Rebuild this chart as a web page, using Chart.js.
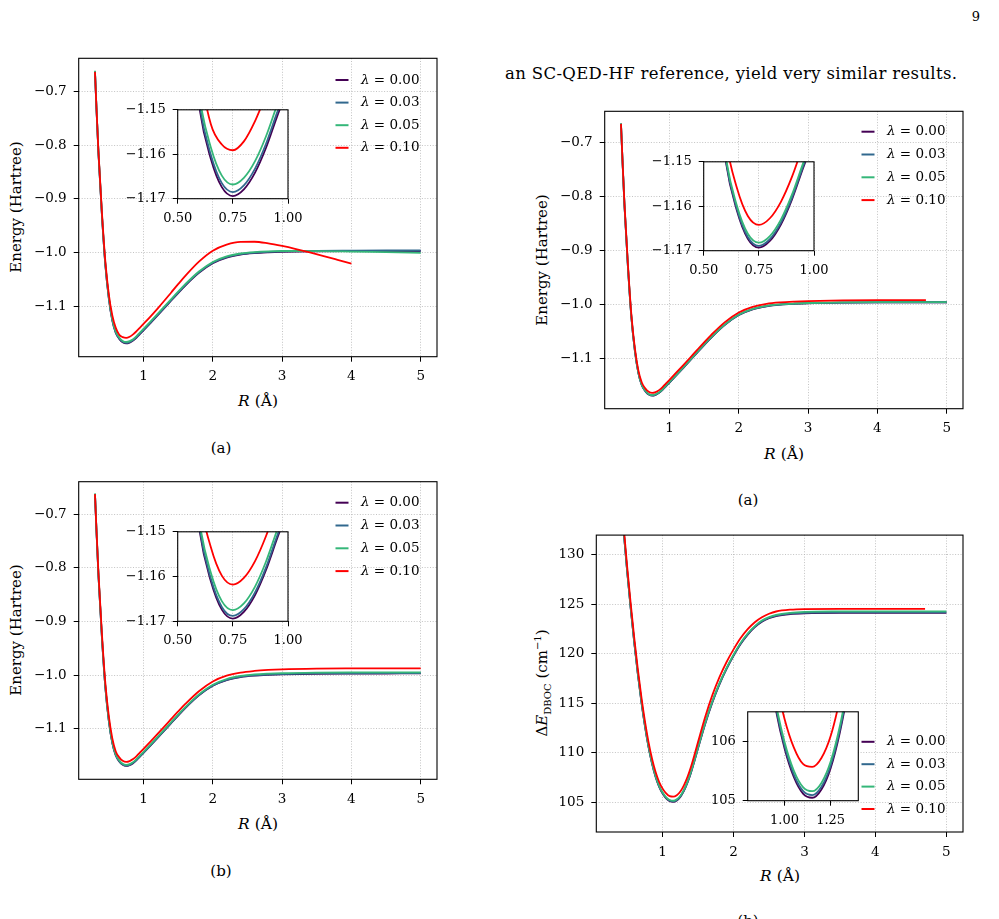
<!DOCTYPE html>
<html><head><meta charset="utf-8">
<script src="https://cdn.jsdelivr.net/npm/chart.js@4/dist/chart.umd.min.js"></script>
<style>
html,body{margin:0;padding:0;background:#fff;}
body{width:999px;height:919px;position:relative;overflow:hidden;font-family:"DejaVu Serif",serif;color:#000;}
canvas{position:absolute;}
.t{position:absolute;white-space:nowrap;line-height:1;}
.c{transform:translate(-50%,-50%);}
.v{transform:translate(-50%,-50%) rotate(-90deg);}
</style></head><body>
<div class="t" style="left:976px;top:16px;font-size:13px;transform:translate(-50%,-50%)">9</div>
<div class="t" style="left:505px;top:66px;font-size:16.5px;letter-spacing:0.35px">an SC-QED-HF reference, yield very similar results.</div>

<div class="t c" style="left:221px;top:448px;font-size:15px">(a)</div>
<div class="t c" style="left:748px;top:500px;font-size:15px">(a)</div>
<div class="t c" style="left:221px;top:871px;font-size:15px">(b)</div>
<div class="t c" style="left:748px;top:921px;font-size:15px">(b)</div>

<div class="t v" style="left:16px;top:207px;font-size:15px">Energy (Hartree)</div>
<div class="t v" style="left:542px;top:260px;font-size:15px">Energy (Hartree)</div>
<div class="t v" style="left:16px;top:630px;font-size:15px">Energy (Hartree)</div>
<div class="t v" style="left:543px;top:683px;font-size:15px">Δ<i>E</i><sub style="font-size:10px">DBOC</sub> (cm<sup style="font-size:10px">−1</sup>)</div>

<div class="t c" style="left:258px;top:402px;font-size:15.5px"><i>R</i> (Å)</div>
<div class="t c" style="left:784px;top:455px;font-size:15.5px"><i>R</i> (Å)</div>
<div class="t c" style="left:258px;top:825px;font-size:15.5px"><i>R</i> (Å)</div>
<div class="t c" style="left:780px;top:877px;font-size:15.5px"><i>R</i> (Å)</div>

<script>
// ---------------- data ----------------
const LAMBDAS = ['0.00','0.03','0.05','0.10'];

// bond length grids (Å)
const R_E   = [0.30,0.32,0.35,0.40,0.45,0.50,0.55,0.60,0.65,0.70,0.75,0.80,0.85,0.90,0.95,1.00,1.10,1.20,1.30,1.40,1.50,1.60,1.80,2.00,2.20,2.40,2.60,2.80,3.00,3.50,4.00,4.50,5.00];
const R_E47 = [0.30,0.32,0.35,0.40,0.45,0.50,0.55,0.60,0.65,0.70,0.75,0.80,0.85,0.90,0.95,1.00,1.10,1.20,1.30,1.40,1.50,1.60,1.80,2.00,2.20,2.40,2.60,2.80,3.00,3.50,4.00,4.50,4.70];
const R_TLR = [0.30,0.32,0.35,0.40,0.45,0.50,0.55,0.60,0.65,0.70,0.75,0.80,0.85,0.90,0.95,1.00,1.10,1.20,1.30,1.40,1.50,1.60,1.80,2.00,2.20,2.40,2.60,2.80,3.00,3.20,3.40,3.60,3.80,4.00];
const R_D   = [0.40,0.45,0.50,0.55,0.60,0.65,0.70,0.75,0.80,0.85,0.90,0.95,1.00,1.05,1.10,1.15,1.20,1.25,1.30,1.35,1.40,1.45,1.50,1.60,1.70,1.80,1.90,2.00,2.10,2.20,2.30,2.40,2.50,2.60,2.80,3.00,3.50,4.00,4.50,5.00];
const R_D47 = [0.40,0.45,0.50,0.55,0.60,0.65,0.70,0.75,0.80,0.85,0.90,0.95,1.00,1.05,1.10,1.15,1.20,1.25,1.30,1.35,1.40,1.45,1.50,1.60,1.70,1.80,1.90,2.00,2.10,2.20,2.30,2.40,2.50,2.60,2.80,3.00,3.50,4.00,4.50,4.70];

// top-left panel energies (Hartree)
const E_TL_000 = [-0.663,-0.728,-0.815,-0.930,-1.024,-1.086,-1.127,-1.1500,-1.1610,-1.1674,-1.1694,-1.1679,-1.1642,-1.1586,-1.1516,-1.1450,-1.1315,-1.1177,-1.1037,-1.0895,-1.0755,-1.0620,-1.0380,-1.0200,-1.0095,-1.0040,-1.0012,-0.9997,-0.9988,-0.9977,-0.9973,-0.99715,-0.9971];
const E_TL_003 = [-0.6625,-0.7275,-0.8145,-0.9295,-1.0235,-1.0853,-1.1262,-1.1491,-1.1601,-1.1665,-1.1685,-1.1670,-1.1633,-1.1577,-1.1507,-1.1441,-1.1306,-1.1168,-1.1028,-1.0886,-1.0746,-1.0611,-1.0371,-1.0191,-1.0086,-1.0031,-1.0004,-0.9989,-0.9980,-0.9968,-0.9964,-0.9962,-0.9962];
const E_TL_005 = [-0.6610,-0.7258,-0.8128,-0.9278,-1.0218,-1.0836,-1.1245,-1.1474,-1.1584,-1.1648,-1.1668,-1.1653,-1.1616,-1.1560,-1.1490,-1.1424,-1.1289,-1.1151,-1.1011,-1.0869,-1.0729,-1.0594,-1.0354,-1.0175,-1.0071,-1.0018,-0.9991,-0.9977,-0.9971,-0.9972,-0.9982,-0.9994,-1.0005];
const E_TL_010 = [-0.663,-0.7255,-0.8115,-0.9250,-1.0175,-1.0785,-1.1175,-1.1405,-1.1532,-1.1578,-1.1591,-1.1571,-1.1526,-1.1466,-1.1400,-1.1332,-1.1194,-1.1050,-1.0900,-1.0745,-1.0590,-1.0440,-1.0170,-0.9965,-0.9851,-0.9800,-0.9799,-0.9830,-0.9878,-0.9935,-0.9998,-1.0065,-1.0135,-1.0206];

// top-right panel energies (Hartree)
const E_TR_000 = [-0.665,-0.729,-0.816,-0.930,-1.024,-1.086,-1.127,-1.1499,-1.1609,-1.1673,-1.1693,-1.1678,-1.1641,-1.1585,-1.1515,-1.1449,-1.1314,-1.1176,-1.1036,-1.0894,-1.0754,-1.0619,-1.0379,-1.0198,-1.0091,-1.0034,-1.0005,-0.9990,-0.9980,-0.9968,-0.9962,-0.9960,-0.9960];
const E_TR_003 = [-0.6646,-0.7286,-0.8156,-0.9296,-1.0236,-1.0856,-1.1266,-1.1495,-1.1605,-1.1669,-1.1689,-1.1674,-1.1637,-1.1581,-1.1511,-1.1445,-1.1310,-1.1172,-1.1032,-1.0890,-1.0750,-1.0615,-1.0375,-1.0194,-1.0087,-1.0030,-1.0002,-0.9987,-0.9977,-0.9966,-0.9961,-0.9960,-0.9960];
const E_TR_005 = [-0.6640,-0.7279,-0.8149,-0.9289,-1.0229,-1.0849,-1.1259,-1.1488,-1.1598,-1.1662,-1.1682,-1.1667,-1.1630,-1.1574,-1.1504,-1.1438,-1.1303,-1.1165,-1.1025,-1.0883,-1.0743,-1.0608,-1.0368,-1.0188,-1.0082,-1.0026,-0.9998,-0.9983,-0.9974,-0.9963,-0.9958,-0.9957,-0.9957];
const E_TR_010 = [-0.665,-0.7265,-0.8125,-0.9255,-1.0195,-1.0812,-1.1220,-1.1449,-1.1558,-1.1622,-1.1642,-1.1627,-1.1590,-1.1534,-1.1464,-1.1398,-1.1263,-1.1125,-1.0985,-1.0843,-1.0703,-1.0568,-1.0328,-1.0150,-1.0046,-0.9990,-0.9962,-0.9947,-0.9938,-0.9926,-0.9921,-0.9920,-0.9920];

// bottom-left panel energies (Hartree)
const E_BL_000 = [-0.663,-0.728,-0.815,-0.930,-1.024,-1.086,-1.127,-1.1500,-1.1610,-1.1674,-1.1694,-1.1679,-1.1642,-1.1586,-1.1516,-1.1450,-1.1315,-1.1177,-1.1037,-1.0895,-1.0755,-1.0620,-1.0380,-1.0200,-1.0095,-1.0040,-1.0012,-0.9997,-0.9988,-0.9977,-0.9973,-0.99715,-0.9971];
const E_BL_003 = [-0.6626,-0.7275,-0.8145,-0.9295,-1.0234,-1.0854,-1.1264,-1.1494,-1.1604,-1.1668,-1.1688,-1.1673,-1.1636,-1.1580,-1.1510,-1.1444,-1.1309,-1.1171,-1.1031,-1.0889,-1.0749,-1.0614,-1.0374,-1.0194,-1.0089,-1.0034,-1.0006,-0.9991,-0.9982,-0.9971,-0.9967,-0.9965,-0.9965];
const E_BL_005 = [-0.6615,-0.7263,-0.8133,-0.9283,-1.0222,-1.0841,-1.1251,-1.1481,-1.1591,-1.1655,-1.1675,-1.1660,-1.1623,-1.1567,-1.1497,-1.1431,-1.1296,-1.1158,-1.1018,-1.0876,-1.0736,-1.0601,-1.0361,-1.0180,-1.0074,-1.0018,-0.9989,-0.9974,-0.9965,-0.9955,-0.9951,-0.9950,-0.9950];
const E_BL_010 = [-0.663,-0.7250,-0.8100,-0.9230,-1.0160,-1.0770,-1.1180,-1.1424,-1.1534,-1.1598,-1.1618,-1.1603,-1.1566,-1.1510,-1.1440,-1.1374,-1.1239,-1.1101,-1.0961,-1.0819,-1.0679,-1.0544,-1.0302,-1.0120,-1.0012,-0.9954,-0.9924,-0.9906,-0.9895,-0.9882,-0.9877,-0.9875,-0.9875];

// bottom-right panel DBOC (cm^-1)
const D_000 = [136.93,132.43,128.33,124.58,121.13,117.98,115.18,112.73,110.63,108.93,107.58,106.58,105.88,105.40,105.12,105.05,105.19,105.55,106.15,106.975,108.0,109.2,110.475,112.925,115.075,116.9,118.45,119.8,121.0,121.95,122.7,123.25,123.6,123.82,124.02,124.1,124.15,124.15,124.15,124.15];
const D_003 = [136.975,132.475,128.375,124.625,121.175,118.025,115.225,112.775,110.675,108.975,107.625,106.625,105.925,105.445,105.165,105.095,105.235,105.595,106.195,107.02,108.045,109.245,110.52,112.97,115.12,116.945,118.495,119.845,121.045,121.995,122.745,123.295,123.645,123.865,124.065,124.15,124.2,124.2,124.2,124.2];
const D_005 = [137.04,132.54,128.44,124.69,121.24,118.09,115.29,112.84,110.74,109.04,107.69,106.69,105.99,105.51,105.23,105.16,105.30,105.66,106.26,107.085,108.11,109.31,110.585,113.035,115.185,117.01,118.56,119.91,121.11,122.06,122.81,123.36,123.71,123.94,124.15,124.24,124.29,124.3,124.3,124.3];
const D_010 = [137.43,132.93,128.83,125.08,121.63,118.48,115.68,113.23,111.13,109.43,108.08,107.08,106.38,105.90,105.62,105.57,105.72,106.09,106.72,107.56,108.60,109.82,111.12,113.62,115.80,117.62,119.15,120.45,121.6,122.5,123.2,123.7,124.05,124.28,124.47,124.53,124.55,124.55,124.55,124.55];

// tick values
const TICKS_R = [1,2,3,4,5];
const TICKS_E = [-1.1,-1.0,-0.9,-0.8,-0.7];
const TICKS_IN_R = [0.50,0.75,1.00];
const TICKS_IN_E = [-1.17,-1.16,-1.15];
const TICKS_D = [105,110,115,120,125,130];
const TICKS_IN_DR = [1.00,1.25];
const TICKS_IN_D = [105,106];

// ---------------- styling / drawing ----------------
const FONT = '"DejaVu Serif", serif';
const COLORS = ['#440154','#31688e','#35b779','#ff0000'];

const neg = s => s.replace('-', '\u2212');
const f0 = v => neg(String(Math.round(v)));
const f1 = v => neg(v.toFixed(1));
const f2 = v => neg(v.toFixed(2));

const framePlugin = {id:'frame', afterDatasetsDraw(chart){
  const a=chart.chartArea, ctx=chart.ctx; ctx.save();
  ctx.strokeStyle='#000'; ctx.lineWidth=1.1; ctx.setLineDash([]);
  ctx.strokeRect(a.left,a.top,a.right-a.left,a.bottom-a.top); ctx.restore();
}};
const bgPlugin = {id:'bg', beforeDraw(chart){
  const a=chart.chartArea, ctx=chart.ctx; ctx.save();
  ctx.fillStyle='#fff'; ctx.fillRect(a.left,a.top,a.right-a.left,a.bottom-a.top); ctx.restore();
}};
function legendPlugin(cfg){ return {id:'innerLegend', afterDraw(chart){
  const ctx=chart.ctx, a=chart.chartArea, ds=chart.data.datasets, n=ds.length;
  ctx.save();
  ds.forEach((d,i)=>{
    const y = cfg.anchor==='top' ? a.top+cfg.first+i*cfg.step : a.bottom-cfg.first-(n-1-i)*cfg.step;
    ctx.strokeStyle=d.borderColor; ctx.lineWidth=2; ctx.setLineDash([]);
    ctx.beginPath(); ctx.moveTo(a.right-101.5,y); ctx.lineTo(a.right-88.5,y); ctx.stroke();
    ctx.fillStyle='#000'; ctx.textBaseline='middle'; ctx.textAlign='left';
    let x=a.right-76;
    ctx.font='italic 13.5px '+FONT; ctx.fillText('\u03bb',x,y); x+=ctx.measureText('\u03bb').width;
    ctx.font='13.5px '+FONT; ctx.fillText(' = '+d.label,x,y);
  });
  ctx.restore();
}};}

function axis(min,max,ticks,fmt,fs,fitFn){
  return {
    type:'linear', min:min, max:max,
    afterBuildTicks: sc => { sc.ticks = ticks.map(v=>({value:v})); },
    afterFit: fitFn,
    ticks:{color:'#000', font:{family:FONT,size:fs}, padding:7, autoSkip:false, maxRotation:0, minRotation:0, callback:v=>fmt(v)},
    grid:{color:'#b4b4b4', lineWidth:0.8, drawTicks:true, tickLength:5, tickColor:'#000', tickWidth:1, tickBorderDash:[]},
    border:{display:false, dash:[1,1.7]}
  };
}

function makeChart(o){
  const [cl,ct,cw,ch]=o.canvas, [al,at,ar,ab]=o.area;
  const cv=document.createElement('canvas');
  cv.width=cw; cv.height=ch;
  Object.assign(cv.style,{left:cl+'px',top:ct+'px',width:cw+'px',height:ch+'px',zIndex:String(o.z)});
  document.body.appendChild(cv);
  const n=o.series.length;
  const datasets=o.series.map((s,i)=>({
    label:LAMBDAS[i], data:s[0].map((x,j)=>({x:x,y:s[1][j]})),
    borderColor:COLORS[i], backgroundColor:COLORS[i], borderWidth:1.8,
    pointRadius:0, fill:false, cubicInterpolationMode:'monotone', order:n-1-i
  }));
  const plugins=[framePlugin];
  if(o.inset) plugins.unshift(bgPlugin);
  if(o.legend) plugins.push(legendPlugin(o.legend));
  new Chart(cv,{type:'line', data:{datasets},
    options:{responsive:false, animation:false, devicePixelRatio:1,
      elements:{line:{capBezierPoints:false}},
      layout:{padding:{left:0, top:at-ct, right:cl+cw-ar, bottom:0}},
      plugins:{legend:{display:false}, tooltip:{enabled:false}},
      scales:{
        x:axis(o.xr[0],o.xr[1],o.xt,o.xf,o.fs,sc=>{sc.height=ct+ch-ab;}),
        y:axis(o.yr[0],o.yr[1],o.yt,o.yf,o.fs,sc=>{sc.width=al-cl;})
      }},
    plugins});
}

const XR=[0.065,5.235];
// main panels
makeChart({canvas:[0,40,452,345], area:[78.7,58.3,437,356.7], xr:XR, yr:[-1.1943,-0.6377], xt:TICKS_R, yt:TICKS_E, xf:f0, yf:f1, fs:13.5, z:1,
  series:[[R_E,E_TL_000],[R_E,E_TL_003],[R_E,E_TL_005],[R_TLR,E_TL_010]], legend:{anchor:'top',first:21.7,step:22.6}});
makeChart({canvas:[520,95,460,345], area:[604.7,111.3,963,408.7], xr:XR, yr:[-1.1935,-0.6417], xt:TICKS_R, yt:TICKS_E, xf:f0, yf:f1, fs:13.5, z:1,
  series:[[R_E,E_TR_000],[R_E,E_TR_003],[R_E,E_TR_005],[R_E47,E_TR_010]], legend:{anchor:'top',first:20.4,step:22.8}});
makeChart({canvas:[0,465,452,345], area:[78.7,481.7,437,779.3], xr:XR, yr:[-1.1943,-0.6398], xt:TICKS_R, yt:TICKS_E, xf:f0, yf:f1, fs:13.5, z:1,
  series:[[R_E,E_BL_000],[R_E,E_BL_003],[R_E,E_BL_005],[R_E,E_BL_010]], legend:{anchor:'top',first:21,step:22.8}});
makeChart({canvas:[520,520,460,345], area:[596.3,534,963,832], xr:XR, yr:[102,132], xt:TICKS_R, yt:TICKS_D, xf:f0, yf:f0, fs:13.5, z:1,
  series:[[R_D,D_000],[R_D,D_003],[R_D,D_005],[R_D47,D_010]], legend:{anchor:'bottom',first:23,step:22.4}});
// insets
makeChart({canvas:[110,95,200,140], area:[177.7,108,288,198.7], xr:[0.5,1.0], yr:[-1.17,-1.15], xt:TICKS_IN_R, yt:TICKS_IN_E, xf:f2, yf:f2, fs:13, z:2, inset:true,
  series:[[R_E,E_TL_000],[R_E,E_TL_003],[R_E,E_TL_005],[R_TLR,E_TL_010]]});
makeChart({canvas:[636,147,200,140], area:[703.7,160.3,814,250.7], xr:[0.5,1.0], yr:[-1.17,-1.15], xt:TICKS_IN_R, yt:TICKS_IN_E, xf:f2, yf:f2, fs:13, z:2, inset:true,
  series:[[R_E,E_TR_000],[R_E,E_TR_003],[R_E,E_TR_005],[R_E47,E_TR_010]]});
makeChart({canvas:[110,517,200,140], area:[177.7,530.7,288,621.3], xr:[0.5,1.0], yr:[-1.17,-1.15], xt:TICKS_IN_R, yt:TICKS_IN_E, xf:f2, yf:f2, fs:13, z:2, inset:true,
  series:[[R_E,E_BL_000],[R_E,E_BL_003],[R_E,E_BL_005],[R_E,E_BL_010]]});
makeChart({canvas:[680,697,200,140], area:[747.7,710,858.3,800.7], xr:[0.8,1.4], yr:[105,106.5], xt:TICKS_IN_DR, yt:TICKS_IN_D, xf:f2, yf:f0, fs:13, z:2, inset:true,
  series:[[R_D,D_000],[R_D,D_003],[R_D,D_005],[R_D47,D_010]]});
</script>
</body></html>
